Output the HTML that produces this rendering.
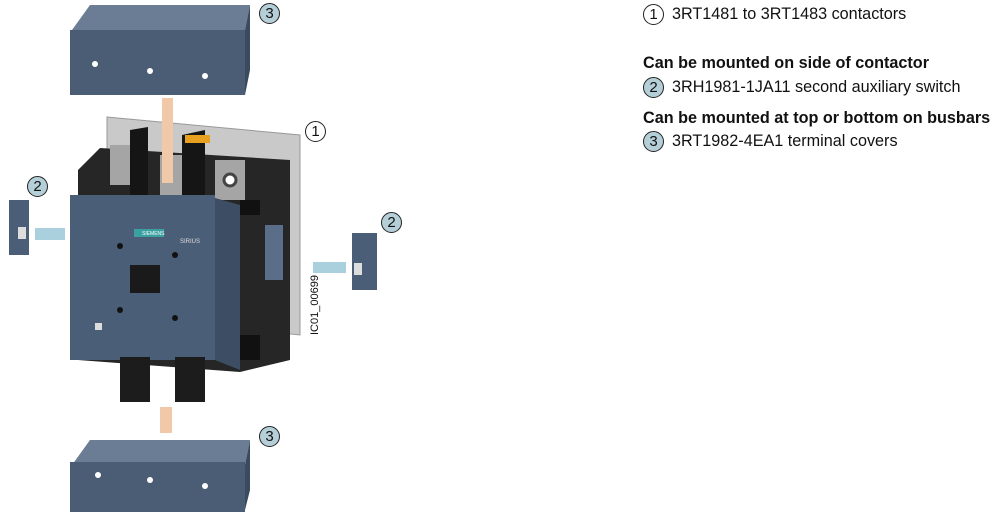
<!DOCTYPE html>
<html><head><meta charset="utf-8"><style>
body{margin:0;background:#fff;width:1000px;height:516px;overflow:hidden;font-family:"Liberation Sans",Arial,sans-serif;}
.t{position:absolute;font-size:16.2px;color:#111;white-space:nowrap;}
.b{font-weight:bold;}
.c{position:absolute;width:19px;height:19px;border:1px solid #222;border-radius:50%;font-size:15px;line-height:19px;text-align:center;color:#111;box-sizing:content-box;}
.bl{background:#b5cfd8;}
</style></head><body>
<svg width="1000" height="516" style="position:absolute;left:0;top:0">
<polygon points="72,30 90,5 250,5 245,30" fill="#6b7d94"/>
<rect x="70" y="30" width="175" height="65" fill="#4b5d75"/>
<polygon points="245,30 250,5 250,70 245,95" fill="#3a4a5f"/>
<circle cx="95" cy="64" r="3" fill="#fff"/><circle cx="150" cy="71" r="3" fill="#fff"/><circle cx="205" cy="76" r="3" fill="#fff"/>
<polygon points="107,117 300,135 300,335 107,315" fill="#c9c9c9" stroke="#999"/>
<polygon points="78,170 100,148 290,160 290,360 240,372 78,360" fill="#262626"/>
<rect x="110" y="145" width="30" height="40" fill="#a5a5a5"/>
<rect x="160" y="155" width="30" height="40" fill="#a5a5a5"/>
<rect x="215" y="160" width="30" height="40" fill="#a5a5a5"/>
<circle cx="230" cy="180" r="6" fill="#fff" stroke="#444" stroke-width="3"/>
<polygon points="130,130 148,127 148,195 130,198" fill="#151515"/>
<polygon points="182,135 205,130 205,205 182,208" fill="#151515"/>
<rect x="185" y="135" width="25" height="8" fill="#e8a020"/>
<rect x="70" y="195" width="145" height="165" fill="#4b5e77"/>
<polygon points="215,198 240,205 240,370 215,360" fill="#3d4e64"/>
<rect x="134" y="229" width="30" height="8" fill="#3aa0a0"/>
<text x="142" y="235" font-size="5" fill="#fff">SIEMENS</text>
<text x="180" y="243" font-size="6" fill="#ddd">SIRIUS</text>
<rect x="130" y="265" width="30" height="28" fill="#1a1a1a"/>
<circle cx="120" cy="246" r="3" fill="#111"/><circle cx="175" cy="255" r="3" fill="#111"/>
<circle cx="120" cy="310" r="3" fill="#111"/><circle cx="175" cy="318" r="3" fill="#111"/>
<rect x="95" y="323" width="7" height="7" fill="#ddd"/>
<rect x="265" y="225" width="18" height="55" fill="#5a6e8a"/>
<rect x="240" y="200" width="20" height="15" fill="#111"/><rect x="240" y="335" width="20" height="25" fill="#111"/>
<rect x="120" y="357" width="30" height="45" fill="#1c1c1c"/>
<rect x="175" y="357" width="30" height="45" fill="#1c1c1c"/>
<rect x="162" y="98" width="11" height="85" fill="#f2c9a8"/>
<rect x="160" y="407" width="12" height="26" fill="#f2c9a8"/>
<polygon points="72,465 90,440 250,440 245,465" fill="#6b7d94"/>
<rect x="70" y="462" width="175" height="50" fill="#4b5d75"/>
<polygon points="245,465 250,440 250,490 245,510" fill="#3a4a5f"/>
<circle cx="98" cy="475" r="3" fill="#fff"/><circle cx="150" cy="480" r="3" fill="#fff"/><circle cx="205" cy="486" r="3" fill="#fff"/>
<rect x="9" y="200" width="20" height="55" fill="#4b5e77"/>
<rect x="18" y="227" width="8" height="12" fill="#ddd"/>
<rect x="35" y="228" width="30" height="12" fill="#a9d0dc"/>
<rect x="352" y="233" width="25" height="57" fill="#4b5e77"/>
<rect x="354" y="263" width="8" height="12" fill="#ddd"/>
<rect x="313" y="262" width="33" height="11" fill="#a9d0dc"/>
<text transform="translate(318,335) rotate(-90)" font-size="11" fill="#111">IC01_00699</text>
</svg>
<div class="c bl" style="left:259px;top:3px">3</div>
<div class="c bl" style="left:27px;top:176px">2</div>
<div class="c" style="left:305px;top:121px;background:#fff">1</div>
<div class="c bl" style="left:381px;top:212px">2</div>
<div class="c bl" style="left:259px;top:426px">3</div>

<div class="c" style="left:643px;top:4px">1</div>
<div class="t" style="left:672px;top:5px">3RT1481 to 3RT1483 contactors</div>
<div class="t b" style="left:643px;top:54px">Can be mounted on side of contactor</div>
<div class="c bl" style="left:643px;top:77px">2</div>
<div class="t" style="left:672px;top:78px">3RH1981-1JA11 second auxiliary switch</div>
<div class="t b" style="left:643px;top:109px">Can be mounted at top or bottom on busbars</div>
<div class="c bl" style="left:643px;top:131px">3</div>
<div class="t" style="left:672px;top:132px">3RT1982-4EA1 terminal covers</div>
</body></html>
